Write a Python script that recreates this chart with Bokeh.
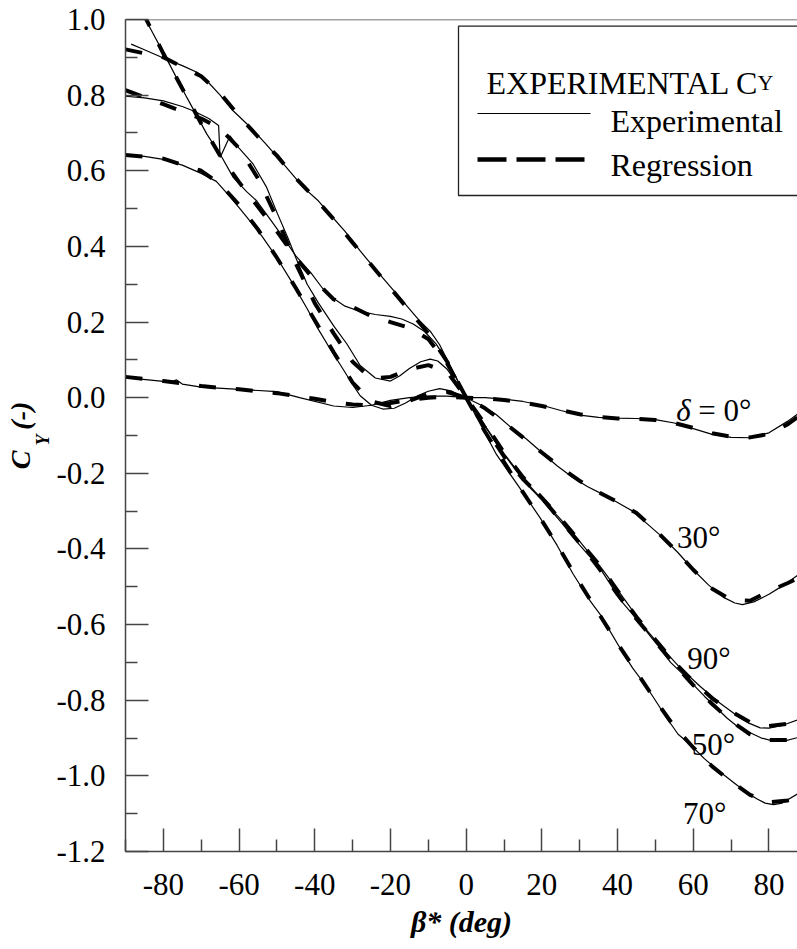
from bokeh.plotting import figure
from bokeh.models import (Range1d, FixedTicker, NumeralTickFormatter, Label,
                          BoxAnnotation, Arrow, Span, Title)
from bokeh.embed import file_html
from bokeh.resources import INLINE

# ---------------- data ----------------
BETA_REG = [-90, -80, -70, -65, -60, -55, -50, -45, -40, -35, -30, -25, -20, -15, -10, -5, 0,
            5, 10, 15, 20, 25, 30, 35, 40, 45, 50, 55, 60, 65, 70, 75, 80, 85, 87.5]

# delta = 0
BETA_EXP_0 = [-90, -80, -78, -76.5, -75, -70, -60, -50, -44, -35, -30, -25, -20, -15, -10, -5, 0,
              5, 10, 15, 20, 25, 30, 35, 40, 45, 50, 55, 60, 65, 70, 75, 80, 85, 87.5]
CY_EXP_0 = [0.053, 0.043, 0.041, 0.047, 0.036, 0.028, 0.022, 0.016, 0.0, -0.022, -0.026, -0.02,
            -0.007, 0.0, 0.004, 0.004, 0.0, 0.0, -0.004, -0.01, -0.02, -0.034, -0.046, -0.052,
            -0.054, -0.055, -0.058, -0.067, -0.082, -0.097, -0.105, -0.106, -0.093, -0.062, -0.044]
CY_REG_0 = [0.055, 0.044, 0.031, 0.026, 0.022, 0.017, 0.012, 0.005, -0.003, -0.012, -0.018, -0.02,
            -0.014, -0.006, 0.0, 0.002, 0.0, -0.002, -0.006, -0.013, -0.022, -0.033, -0.044,
            -0.051, -0.055, -0.056, -0.059, -0.067, -0.08, -0.094, -0.103, -0.105, -0.096,
            -0.07, -0.052]

# delta = 30
BETA_EXP_30 = [-90, -85, -80, -75, -70, -66, -62, -58, -54, -50, -46, -42, -39, -36, -33, -30,
               -28, -25, -22, -19, -16, -13, -10, -7, -4, -2, 0, 4, 8, 12, 16, 20, 24, 28, 32,
               36, 40, 44, 48, 52, 56, 60, 64, 68, 71, 73, 76, 80, 84, 87.5]
CY_EXP_30 = [0.64, 0.638, 0.63, 0.615, 0.593, 0.572, 0.527, 0.478, 0.428, 0.37, 0.305, 0.235,
             0.18, 0.13, 0.083, 0.035, 0.005, -0.02, -0.03, -0.028, -0.014, 0.004, 0.017, 0.024,
             0.018, 0.008, 0.0, -0.02, -0.045, -0.08, -0.11, -0.145, -0.18, -0.21, -0.235,
             -0.255, -0.277, -0.3, -0.335, -0.37, -0.41, -0.455, -0.495, -0.528, -0.543,
             -0.547, -0.54, -0.52, -0.495, -0.47]
CY_REG_30 = [0.642, 0.632, 0.6, 0.565, 0.51, 0.445, 0.37, 0.29, 0.205, 0.12, 0.04, -0.01, -0.022,
             -0.008, 0.01, 0.015, 0.0, -0.028, -0.065, -0.105, -0.145, -0.185, -0.22, -0.25,
             -0.276, -0.305, -0.35, -0.4, -0.455, -0.505, -0.535, -0.537, -0.512, -0.49, -0.478]

# delta = 50
BETA_EXP_50 = [-88.5, -85, -80, -75, -71, -68.5, -65, -61.5, -57, -53, -48, -43, -39, -36, -32,
               -28, -24, -21, -18, -15, -12, -9.5, -7, -4.4, -2, 0, 3, 6.4, 10, 16, 20, 24.8, 30,
               35.3, 41, 45, 50.4, 54, 58.3, 63, 68.9, 72, 75.9, 78, 81.2, 84, 87.5]
CY_EXP_50 = [0.935, 0.92, 0.898, 0.878, 0.86, 0.838, 0.8, 0.758, 0.715, 0.672, 0.615, 0.556,
             0.52, 0.485, 0.44, 0.388, 0.34, 0.305, 0.27, 0.235, 0.2, 0.176, 0.14, 0.088, 0.04,
             0.0, -0.045, -0.097, -0.15, -0.229, -0.27, -0.326, -0.39, -0.45, -0.538, -0.585,
             -0.652, -0.7, -0.741, -0.79, -0.847, -0.872, -0.89, -0.9, -0.908, -0.908, -0.899]
CY_REG_50 = [0.921, 0.9, 0.85, 0.805, 0.745, 0.69, 0.64, 0.58, 0.528, 0.472, 0.41, 0.35, 0.29,
             0.23, 0.17, 0.095, 0.0, -0.08, -0.155, -0.215, -0.265, -0.325, -0.385, -0.45,
             -0.52, -0.585, -0.645, -0.705, -0.76, -0.81, -0.855, -0.89, -0.905, -0.905, -0.9]

# delta = 70
BETA_EXP_70 = [-90, -84.7, -78.6, -73.8, -68.5, -64.5, -61.5, -58, -55.3, -52, -48.3, -45, -41,
               -38, -35, -32, -28, -24, -20, -17, -14, -11, -8, -4.4, -2, 0, 4, 8, 14.1, 19.5,
               24, 28.3, 32.8, 35.4, 41, 44, 47.7, 53, 56, 59.2, 63, 67.1, 71, 74.2, 77, 79,
               81.2, 83.5, 87.5]
CY_EXP_70 = [1.10, 1.0, 0.886, 0.794, 0.697, 0.635, 0.582, 0.545, 0.52, 0.475, 0.423, 0.375,
             0.33, 0.29, 0.262, 0.242, 0.228, 0.22, 0.215, 0.208, 0.195, 0.175, 0.143, 0.088,
             0.04, 0.0, -0.075, -0.15, -0.238, -0.317, -0.39, -0.467, -0.538, -0.573, -0.668,
             -0.715, -0.765, -0.847, -0.89, -0.917, -0.955, -0.99, -1.02, -1.045, -1.062,
             -1.072, -1.076, -1.072, -1.048]
CY_REG_70 = [1.11, 0.91, 0.725, 0.64, 0.57, 0.505, 0.44, 0.37, 0.31, 0.26, 0.24, 0.215, 0.2,
             0.185, 0.155, 0.09, 0.0, -0.09, -0.17, -0.25, -0.325, -0.405, -0.49, -0.57, -0.65,
             -0.725, -0.8, -0.87, -0.925, -0.975, -1.015, -1.05, -1.07, -1.065, -1.058]

# delta = 90
BETA_EXP_90 = [-90, -85, -80, -75, -72, -68, -65.4, -65.0, -62.4, -60, -56.3, -52.7, -50, -47,
               -45, -42, -39, -35, -31.5, -28, -24, -20, -17.5, -15, -12, -9.5, -7.5, -5, -2.5,
               0, 3, 6.4, 10, 16, 20, 24.8, 30, 35.3, 41.6, 47.7, 52, 56.5, 62, 67.1, 72.4, 75,
               77.7, 80, 84, 87.5]
CY_EXP_90 = [0.797, 0.793, 0.785, 0.77, 0.758, 0.738, 0.72, 0.635, 0.692, 0.66, 0.618, 0.556,
             0.49, 0.42, 0.37, 0.3, 0.25, 0.19, 0.142, 0.085, 0.052, 0.044, 0.058, 0.077, 0.095,
             0.102, 0.097, 0.075, 0.04, 0.0, -0.045, -0.095, -0.148, -0.225, -0.268, -0.32,
             -0.38, -0.445, -0.53, -0.615, -0.665, -0.714, -0.765, -0.808, -0.847, -0.862,
             -0.873, -0.874, -0.865, -0.852]
CY_REG_90 = [0.813, 0.776, 0.738, 0.712, 0.66, 0.58, 0.475, 0.355, 0.25, 0.17, 0.095, 0.05,
             0.055, 0.075, 0.086, 0.068, 0.0, -0.07, -0.145, -0.21, -0.265, -0.32, -0.38, -0.44,
             -0.51, -0.58, -0.64, -0.7, -0.75, -0.795, -0.83, -0.858, -0.868, -0.862, -0.855]

X_MAJOR = [-80, -60, -40, -20, 0, 20, 40, 60, 80]
X_MINOR = [-90, -70, -50, -30, -10, 10, 30, 50, 70]
Y_MAJOR = [-1.2, -1.0, -0.8, -0.6, -0.4, -0.2, 0.0, 0.2, 0.4, 0.6, 0.8, 1.0]
Y_MINOR = [-1.1, -0.9, -0.7, -0.5, -0.3, -0.1, 0.1, 0.3, 0.5, 0.7, 0.9]

CURVE_LABELS = [("= 0\u00b0", 61.3, -0.035), ("30\u00b0", 55.7, -0.371),
                ("90\u00b0", 58.4, -0.689), ("50\u00b0", 59.6, -0.917),
                ("70\u00b0", 57.3, -1.099)]
DELTA_LABEL = ("\u03b4", 55.5, -0.035)

LEGEND_TITLE = "EXPERIMENTAL C"
LEGEND_TITLE_SUB = "Y"
LEGEND_ITEMS = ["Experimental", "Regression"]

X_TITLE = "\u03b2* (deg)"
Y_TITLE_MAIN = "C\u00a0\u00a0\u00a0(-)"
Y_TITLE_SUB = "Y\u00a0\u00a0"

# ---------------- figure ----------------
FONT = "Liberation Serif"
AX = "#444444"

W, H = 797, 949
p = figure(width=W, height=H, output_backend="svg", toolbar_location=None,
           x_range=Range1d(-90, -90 + 672 / 3.785), y_range=Range1d(-1.2, 1.0),
           min_border_left=125, min_border_right=0, min_border_top=19,
           min_border_bottom=H - 19 - 832, outline_line_color=None,
           background_fill_color="white", border_fill_color="white")
p.grid.visible = False

for ax in (p.xaxis[0], p.yaxis[0]):
    ax.axis_line_color = AX
    ax.axis_line_width = 1.5
    ax.major_tick_line_color = AX
    ax.minor_tick_line_color = AX
    ax.major_tick_line_width = 1.5
    ax.minor_tick_line_width = 1.5
    ax.major_tick_in = 23
    ax.major_tick_out = 0
    ax.minor_tick_in = 12
    ax.minor_tick_out = 0
    ax.major_label_text_font = FONT
    ax.major_label_text_font_size = "31px"
    ax.major_label_text_color = "black"
    ax.axis_label_text_font = FONT
    ax.axis_label_text_color = "black"
    ax.axis_label_text_font_style = "bold italic"

p.xaxis[0].major_label_standoff = 22
p.yaxis[0].major_label_standoff = 20

p.xaxis[0].ticker = FixedTicker(ticks=X_MAJOR, minor_ticks=X_MINOR)
p.yaxis[0].ticker = FixedTicker(ticks=Y_MAJOR, minor_ticks=Y_MINOR)
p.xaxis[0].formatter = NumeralTickFormatter(format="0")
p.yaxis[0].formatter = NumeralTickFormatter(format="0.0")

p.xaxis[0].axis_label = X_TITLE
p.xaxis[0].axis_label_text_font_size = "30px"
p.xaxis[0].axis_label_standoff = 7

# y title: subscript as the axis label (inner), main text as an outer title
p.yaxis[0].axis_label = Y_TITLE_SUB
p.yaxis[0].axis_label_text_font_size = "18px"
p.yaxis[0].axis_label_standoff = 0
p.add_layout(Title(text=Y_TITLE_MAIN, align="center", text_font=FONT,
                   text_font_size="28px", text_font_style="bold italic",
                   text_color="black", standoff=-10), "left")

p.add_layout(Span(location=1.0, dimension="width", line_color=AX, line_width=1.5))

DASH = "17 20"
series = [
    (BETA_EXP_0, CY_EXP_0, CY_REG_0),
    (BETA_EXP_30, CY_EXP_30, CY_REG_30),
    (BETA_EXP_50, CY_EXP_50, CY_REG_50),
    (BETA_EXP_70, CY_EXP_70, CY_REG_70),
    (BETA_EXP_90, CY_EXP_90, CY_REG_90),
]
for bx, ye, yr in series:
    p.line(x=BETA_REG, y=yr, line_color="black", line_width=4, line_dash=DASH)
for bx, ye, yr in series:
    p.line(x=bx, y=ye, line_color="black", line_width=1.2)

# curve labels
for txt, x, y in CURVE_LABELS:
    p.add_layout(Label(x=x, y=y, text=txt, text_font=FONT, text_font_size="31px",
                       text_baseline="alphabetic", text_align="left", text_color="black"))
p.add_layout(Label(x=DELTA_LABEL[1], y=DELTA_LABEL[2], text=DELTA_LABEL[0], text_font=FONT,
                   text_font_size="31px", text_font_style="italic",
                   text_baseline="alphabetic", text_align="left", text_color="black"))

# legend (screen units relative to the frame's bottom-left corner)
p.add_layout(BoxAnnotation(left=333, right=700, top=825.3, bottom=656,
                           left_units="screen", right_units="screen",
                           top_units="screen", bottom_units="screen",
                           fill_color="white", fill_alpha=1.0,
                           line_color="#222222", line_alpha=1.0, line_width=1.3,
                           level="overlay"))


def leg_label(x, y, text, size):
    p.add_layout(Label(x=x, y=y, x_units="screen", y_units="screen", text=text,
                       text_font=FONT, text_font_size=size, text_baseline="alphabetic",
                       text_color="black", level="overlay"))


leg_label(361, 769, LEGEND_TITLE, "32px")
leg_label(632, 769, LEGEND_TITLE_SUB, "22px")
leg_label(485, 730.5, LEGEND_ITEMS[0], "32px")
leg_label(485, 686.5, LEGEND_ITEMS[1], "32px")
p.add_layout(Arrow(x_start=352, y_start=738, x_end=465, y_end=738, start_units="screen",
                   end_units="screen", start=None, end=None, line_color="black",
                   line_width=1.2, level="overlay"))
p.add_layout(Arrow(x_start=352, y_start=692, x_end=465, y_end=692, start_units="screen",
                   end_units="screen", start=None, end=None, line_color="black",
                   line_width=4.5, line_dash="29 10", level="overlay"))

open("out.html", "w").write(file_html(p, INLINE))
